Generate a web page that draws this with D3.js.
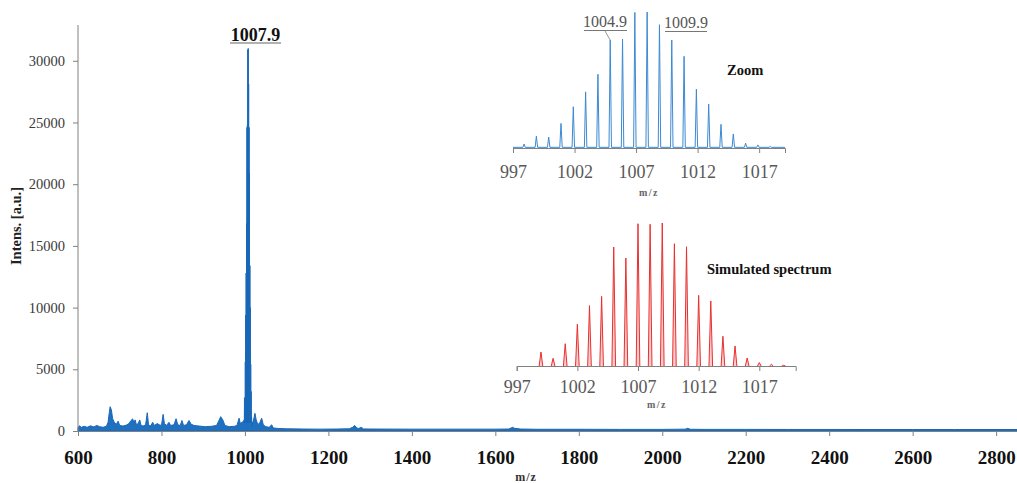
<!DOCTYPE html>
<html>
<head>
<meta charset="utf-8">
<title>MALDI spectrum</title>
<script src="https://cdn.jsdelivr.net/npm/d3@7"></script>
<style>
  body { margin: 0; background: #fff; }
  svg, svg text { font-family: "Liberation Serif", "DejaVu Serif", serif; }
  .domain { stroke: #808080; }
  .tick line { stroke: #808080; }
</style>
</head>
<body>
<script>
// ---- data ----
var xTicks = [600, 800, 1000, 1200, 1400, 1600, 1800, 2000, 2200, 2400, 2600, 2800];
var yTicks = [0, 5000, 10000, 15000, 20000, 25000, 30000];
var insetTicks = [997, 1002, 1007, 1012, 1017];

// full spectrum outside the isotope cluster (m/z, intensity)
var bgMz = [600, 603, 608, 615, 622, 630, 638, 645, 652, 660, 668, 672, 675, 677, 680, 683, 687, 692, 696, 700,
  708, 716, 722, 727, 731, 734, 737, 740, 744, 748, 751, 756, 762, 766, 769, 774, 779, 783, 790, 795,
  800, 804, 807, 812, 818, 822, 830, 835, 839, 845, 849, 853, 860, 866, 871, 878, 890, 905, 920, 932,
  937, 942, 947, 952, 962, 975, 981, 986, 989, 993, 997,
  1019, 1022, 1024, 1027, 1031, 1036, 1040, 1044, 1050, 1058, 1064, 1068, 1080, 1100, 1140, 1180, 1220, 1250,
  1258, 1263, 1268, 1272, 1279, 1284, 1300, 1400, 1500, 1600, 1632, 1638, 1641, 1646, 1660, 1700, 1800, 1900,
  2000, 2055, 2061, 2067, 2100, 2200, 2300, 2400, 2500, 2600, 2700, 2850];
var bgInt = [250, 420, 300, 380, 300, 420, 330, 450, 350, 300, 380, 700, 1500, 1970, 1700, 1000, 700, 550, 800, 450,
  400, 480, 600, 850, 980, 700, 900, 500, 600, 900, 450, 400, 500, 1480, 500, 400, 700, 450, 600, 500,
  450, 1350, 600, 450, 700, 450, 500, 1000, 500, 450, 850, 450, 500, 850, 550, 450, 400, 350, 380, 450,
  800, 1160, 900, 450, 350, 380, 450, 1040, 600, 700, 800,
  700, 1100, 1430, 900, 500, 700, 1040, 500, 350, 300, 500, 250, 200, 180, 160, 150, 160, 180,
  300, 450, 250, 200, 300, 170, 160, 150, 150, 150, 160, 250, 300, 220, 160, 140, 140, 130,
  130, 150, 220, 140, 130, 130, 125, 125, 120, 120, 120, 120];

// measured isotope pattern (zoom)
var isoMz = [997.9, 998.9, 999.9, 1000.9, 1001.9, 1002.9, 1003.9, 1004.9, 1005.9, 1006.9, 1007.9,
  1008.9, 1009.9, 1010.9, 1011.9, 1012.9, 1013.9, 1014.9, 1015.9, 1016.9, 1017.9];
var isoInt = [900, 2700, 2500, 5600, 9400, 12800, 16800, 24600, 24800, 30900, 31000,
  28100, 24600, 20900, 13400, 10000, 5400, 3200, 1100, 700, 350];

// simulated isotope pattern (relative %)
var simMz = [999, 1000, 1001, 1002, 1003, 1004, 1005, 1006, 1007, 1008, 1009,
  1010, 1011, 1012, 1013, 1014, 1015, 1016, 1017, 1018, 1019];
var simInt = [9.8, 5.4, 15.6, 29.2, 42.2, 48.7, 83.2, 75.5, 99.5, 99.1, 100,
  85.5, 83.4, 49.4, 45.5, 20.8, 14.0, 5.6, 2.4, 1.2, 0.5];

var W = 1017, H = 483;
var serif = "'Liberation Serif', 'DejaVu Serif', serif";
var svg = d3.select("body").append("svg").attr("width", W).attr("height", H);

// ---- main spectrum ----
var x = d3.scaleLinear().domain([600, 2850]).range([78, 1017]);
var y = d3.scaleLinear().domain([0, 32900]).range([431, 25]);

var pts = bgMz.map(function(m, i) { return [m, bgInt[i]]; });
isoMz.forEach(function(m, i) {
  pts.push([m - 0.35, 700]);
  pts.push([m, isoInt[i]]);
  pts.push([m + 0.35, 700]);
});
pts.sort(function(a, b) { return a[0] - b[0]; });

var area = d3.area().x(function(d) { return x(d[0]); }).y0(y(0)).y1(function(d) { return y(d[1]); });
svg.append("path").datum(pts).attr("d", area)
  .attr("fill", "#1f70c1").attr("stroke", "#1a68b8").attr("stroke-width", 1);

var xAxis = d3.axisBottom(x).tickValues(xTicks).tickSize(5).tickPadding(15).tickFormat(d3.format("d"));
var gx = svg.append("g").attr("transform", "translate(0," + y(0) + ")").call(xAxis)
  .attr("font-family", serif);
gx.selectAll("text").attr("font-size", 19).attr("font-weight", "bold").attr("fill", "#111");

var yAxis = d3.axisLeft(y).tickValues(yTicks).tickSize(5).tickPadding(8).tickFormat(d3.format("d"));
var gy = svg.append("g").attr("transform", "translate(" + x(600) + ",0)").call(yAxis)
  .attr("font-family", serif);
gy.selectAll("text").attr("font-size", 14.5).attr("fill", "#3a3a3a");
gy.select(".domain").attr("d", "M0," + y(0) + "V" + y(32900));

svg.append("text").attr("transform", "translate(21,226) rotate(-90)")
  .attr("text-anchor", "middle").attr("font-size", 14.5).attr("font-weight", "bold").attr("fill", "#222")
  .text("Intens. [a.u.]");
svg.append("text").attr("x", 526).attr("y", 481).attr("text-anchor", "middle")
  .attr("font-size", 12).attr("font-weight", "bold").attr("letter-spacing", 1).attr("fill", "#333").text("m/z");

svg.append("text").attr("x", 255.5).attr("y", 40.5).attr("text-anchor", "middle")
  .attr("font-size", 18).attr("font-weight", "bold").attr("fill", "#111").text("1007.9");
svg.append("line").attr("x1", 230).attr("x2", 281).attr("y1", 43).attr("y2", 43)
  .attr("stroke", "#666").attr("stroke-width", 1.2);

// ---- zoom inset ----
var zx = d3.scaleLinear().domain([997, 1019.1]).range([513, 785]);
var zy = d3.scaleLinear().domain([0, 31000]).range([148, 12]);

var zAxis = d3.axisBottom(zx).tickValues(insetTicks).tickSize(5).tickPadding(12).tickFormat(d3.format("d"));
var gz = svg.append("g").attr("transform", "translate(0,148)").call(zAxis).attr("font-family", serif);
gz.selectAll("text").attr("font-size", 18).attr("fill", "#595959");
gz.select(".domain").attr("stroke", "#9a9a9a");

var zPts = [[997, 150]];
isoMz.forEach(function(m, i) {
  zPts.push([m - 0.1, 150]);
  zPts.push([m, isoInt[i]]);
  zPts.push([m + 0.1, 150]);
});
zPts.push([1019.1, 150]);
svg.append("path").datum(zPts)
  .attr("d", d3.line().x(function(d) { return zx(d[0]); }).y(function(d) { return zy(d[1]); }))
  .attr("fill", "none").attr("stroke", "#3c8ad2").attr("stroke-width", 1);

svg.append("text").attr("x", 727).attr("y", 75).attr("font-size", 14.5).attr("font-weight", "bold")
  .attr("fill", "#111").text("Zoom");
svg.append("text").attr("x", 649).attr("y", 196).attr("text-anchor", "middle").attr("font-size", 10)
  .attr("font-weight", "bold").attr("letter-spacing", 1.5).attr("fill", "#666").text("m/z");

// peak labels
svg.append("text").attr("x", 605).attr("y", 27).attr("text-anchor", "middle").attr("font-size", 16)
  .attr("fill", "#555").text("1004.9");
svg.append("line").attr("x1", 584).attr("x2", 627).attr("y1", 30.5).attr("y2", 30.5).attr("stroke", "#777");
svg.append("line").attr("x1", 605).attr("x2", zx(isoMz[7])).attr("y1", 31).attr("y2", zy(isoInt[7]))
  .attr("stroke", "#999");
svg.append("text").attr("x", 686).attr("y", 28).attr("text-anchor", "middle").attr("font-size", 16)
  .attr("fill", "#555").text("1009.9");
svg.append("line").attr("x1", 665).attr("x2", 707).attr("y1", 31.5).attr("y2", 31.5).attr("stroke", "#777");

// ---- simulated inset ----
var sx = d3.scaleLinear().domain([997, 1020]).range([516.7, 795.7]);
var sy = d3.scaleLinear().domain([0, 100]).range([366, 223]);

var sAxis = d3.axisBottom(sx).tickValues(insetTicks).tickSize(5).tickPadding(9).tickFormat(d3.format("d"));
var gs = svg.append("g").attr("transform", "translate(0,366)").call(sAxis).attr("font-family", serif);
gs.selectAll("text").attr("font-size", 18).attr("fill", "#595959");
gs.select(".domain").attr("stroke", "#f2a0a0");

svg.append("g").selectAll("path").data(simMz).enter().append("path")
  .attr("d", function(m, i) {
    return "M" + sx(m - 0.15) + "," + sy(0) + "L" + sx(m) + "," + sy(simInt[i]) + "L" + sx(m + 0.15) + "," + sy(0);
  })
  .attr("fill", "rgba(240,110,110,0.35)").attr("stroke", "#e8302f").attr("stroke-width", 1);

svg.append("text").attr("x", 707).attr("y", 274).attr("font-size", 14.5).attr("font-weight", "bold")
  .attr("fill", "#111").text("Simulated spectrum");
svg.append("text").attr("x", 657).attr("y", 408).attr("text-anchor", "middle").attr("font-size", 10)
  .attr("font-weight", "bold").attr("letter-spacing", 1.5).attr("fill", "#666").text("m/z");
</script>
</body>
</html>
